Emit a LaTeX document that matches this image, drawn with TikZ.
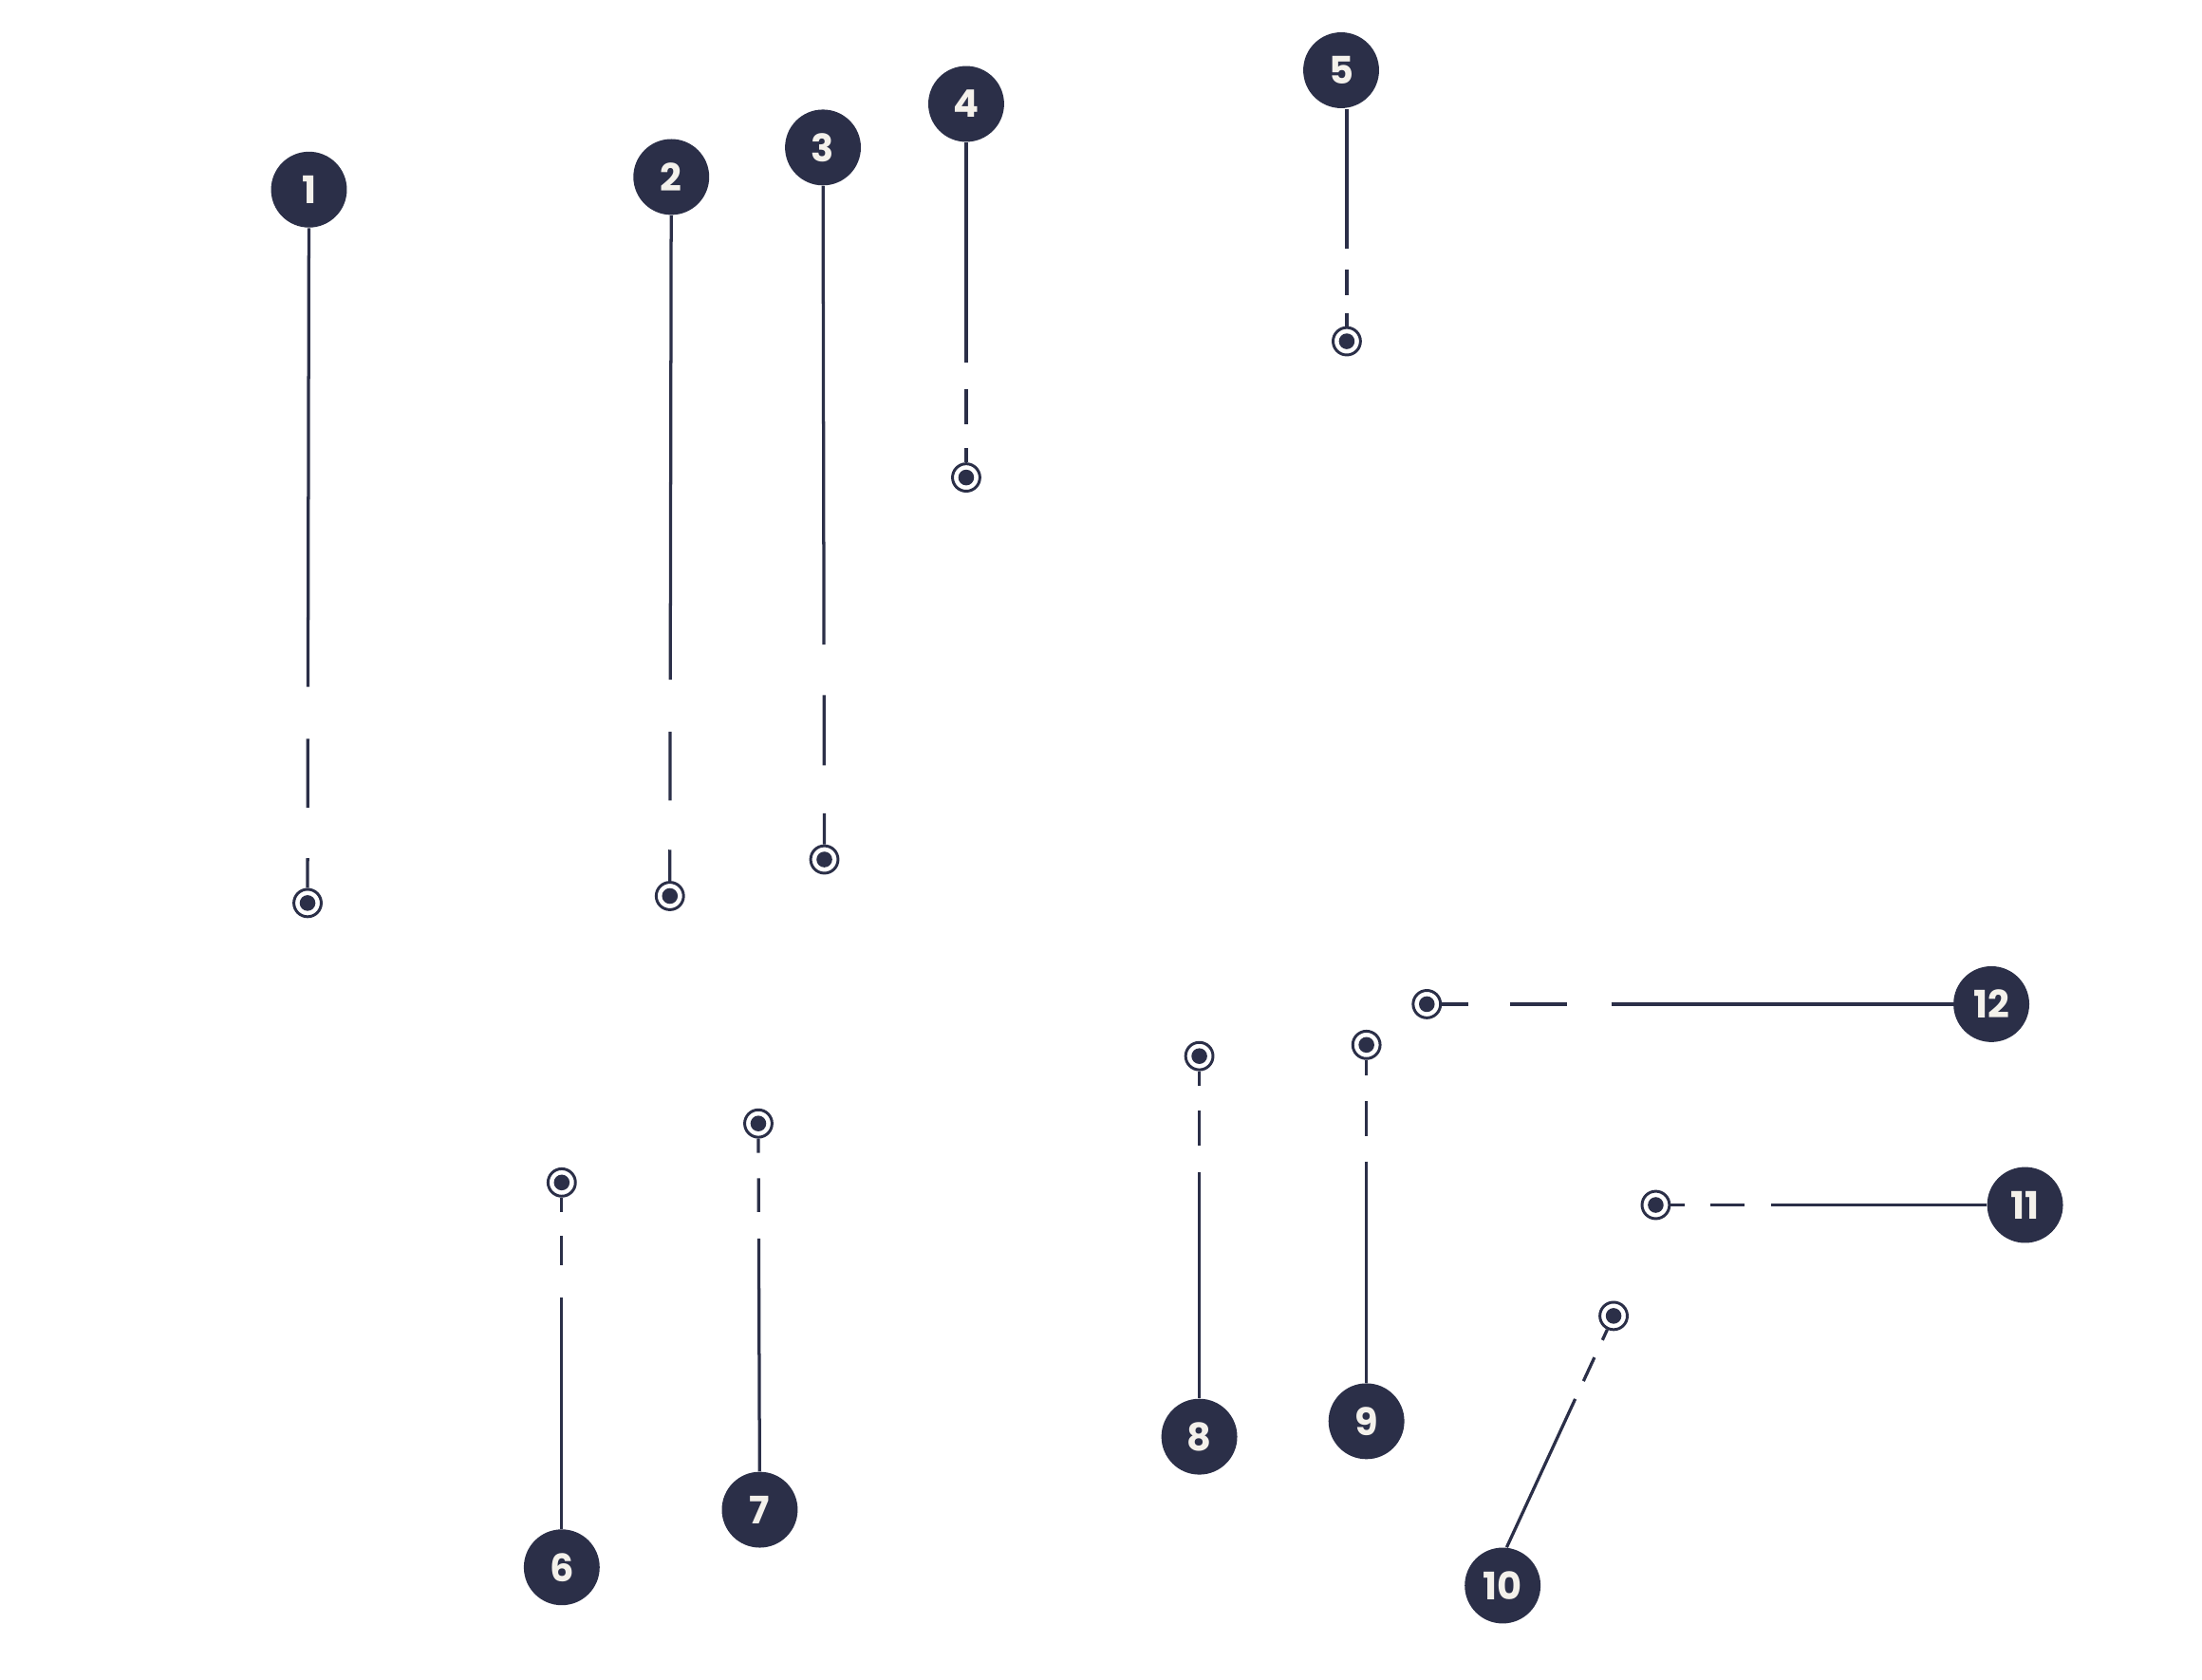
\documentclass[tikz,border=0pt]{standalone}
\usepackage{fontspec}
\setmainfont{Poppins}
\definecolor{navy}{HTML}{2B2F48}
\definecolor{offw}{HTML}{F4F1EB}
\begin{document}
\begin{tikzpicture}[x=0.5pt,y=-0.5pt,
  num/.style={circle, fill=navy, minimum size=27pt, inner sep=0pt, text=offw, font=\fontsize{13.5}{15}\selectfont\bfseries},
  marker/.style={circle, draw=navy, fill=white, line width=1pt, minimum size=9.75pt, inner sep=0pt,
    path picture={\fill[navy] (path picture bounding box.center) circle (2.8pt);}},
  conn/.style={draw=navy, line width=1.1pt}]
\useasboundingbox (0,0) rectangle (1568,1196);
% markers
\node[marker] (m1) at (219,643) {};
\node[marker] (m2) at (477,638) {};
\node[marker] (m3) at (587,612) {};
\node[marker] (m4) at (688,340) {};
\node[marker] (m5) at (959,243) {};
\node[marker] (m6) at (400,842) {};
\node[marker] (m7) at (540,800) {};
\node[marker] (m8) at (854,752) {};
\node[marker] (m9) at (973,744) {};
\node[marker] (m10) at (1149,937) {};
\node[marker] (m11) at (1179,858) {};
\node[marker] (m12) at (1016,715) {};
% number circles
\node[num] (c1) at (220,135) {1};
\node[num] (c2) at (478,126) {2};
\node[num] (c3) at (586,105) {3};
\node[num] (c4) at (688,74) {4};
\node[num] (c5) at (955,50) {5};
\node[num] (c6) at (400,1116) {6};
\node[num] (c7) at (541,1075) {7};
\node[num] (c8) at (854,1023) {8};
\node[num] (c9) at (973,1012) {9};
\node[num] (c10) at (1070,1129) {10};
\node[num] (c11) at (1442,858) {11};
\node[num] (c12) at (1418,715) {12};
% connectors
\draw[conn, dash pattern=on 10.6pt off 18pt on 24.5pt off 18.5pt on 2000pt off 0pt] (m1) -- (c1);
\draw[conn, dash pattern=on 11.1pt off 17.5pt on 24.5pt off 18.5pt on 2000pt off 0pt] (m2) -- (c2);
\draw[conn, dash pattern=on 11.1pt off 17pt on 25pt off 18pt on 2000pt off 0pt] (m3) -- (c3);
\draw[conn, dash pattern=on 5.1pt off 8.5pt on 12.5pt off 9.5pt on 2000pt off 0pt] (m4) -- (c4);
\draw[conn, dash pattern=on 4.6pt off 6.5pt on 9pt off 7.5pt on 2000pt off 0pt] (m5) -- (m5 |- c5.south);
\draw[conn, dash pattern=on 5.1pt off 8.5pt on 10.5pt off 11.5pt on 2000pt off 0pt] (m6) -- (c6);
\draw[conn, dash pattern=on 5.1pt off 9pt on 12pt off 9.5pt on 2000pt off 0pt] (m7) -- (c7);
\draw[conn, dash pattern=on 5.1pt off 9pt on 12.5pt off 9.5pt on 2000pt off 0pt] (m8) -- (c8);
\draw[conn, dash pattern=on 5.6pt off 9pt on 12.5pt off 9pt on 2000pt off 0pt] (m9) -- (c9);
\draw[conn, dash pattern=on 4.1pt off 6.8pt on 9.3pt off 7pt on 2000pt off 0pt] (m10) -- (c10.84);
\draw[conn, dash pattern=on 5.1pt off 9pt on 12pt off 9.5pt on 2000pt off 0pt] (m11) -- (c11);
\draw[conn, dash pattern=on 9.5pt off 14.7pt on 20.2pt off 15.9pt on 2000pt off 0pt] (m12) -- (c12);
\end{tikzpicture}
\end{document}
